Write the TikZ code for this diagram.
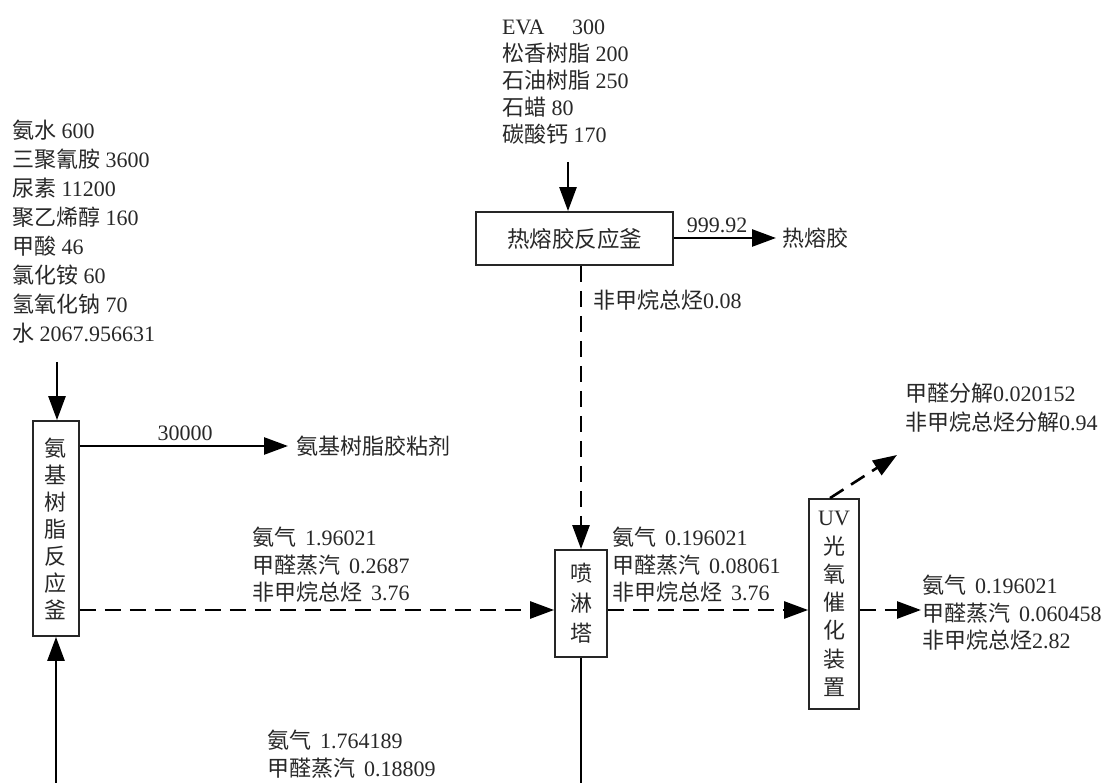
\documentclass[tikz,border=0pt]{standalone}
\usepackage{fontspec}
\setmainfont{Liberation Serif}
\newfontfamily\cjk{Noto Sans CJK SC}
\usetikzlibrary{arrows.meta}
\newcommand\zh[1]{{\cjk #1}}
\newcommand\gp{\hspace{9pt}}
\definecolor{ink}{RGB}{40,40,40}
\begin{document}
\begin{tikzpicture}[x=1pt,y=-1pt,
  every node/.style={inner sep=0pt, text=ink, font=\fontsize{22}{28}\selectfont},
  flow/.style={line width=2.6pt, -{Triangle[length=24pt,width=17pt]}},
  dflow/.style={flow, dash pattern=on 16pt off 9pt},
  unit/.style={draw=black!85, line width=1.8pt, fill=white, align=center},
  lbl/.style={align=left, anchor=north west},
]
\path[use as bounding box, fill=white] (0,0) rectangle (1120,783);
\clip (0,0) rectangle (1120,783);

% units
\node[unit, minimum width=46pt, minimum height=215pt, font=\fontsize{22}{27}\selectfont\cjk] (lb) at (56,528.5) {氨\\基\\树\\脂\\反\\应\\釜};
\node[unit, minimum width=52pt, minimum height=107pt, font=\fontsize{22}{30}\selectfont\cjk] (pl) at (581,603.5) {喷\\淋\\塔};
\node[unit, minimum width=50pt, minimum height=210pt, font=\fontsize{22}{28.3}\selectfont\cjk] (uv) at (834,604) {{\rmfamily UV}\\光\\氧\\催\\化\\装\\置};
\node[unit, minimum width=197pt, minimum height=53pt, font=\fontsize{22.5}{26}\selectfont\cjk] (hr) at (574.5,238.5) {热熔胶反应釜};

% input lists
\node[lbl, font=\fontsize{22}{29}\selectfont] (lin) at (12,120)
 {\zh{氨水} 600\\\zh{三聚氰胺} 3600\\\zh{尿素} 11200\\\zh{聚乙烯醇} 160\\\zh{甲酸} 46\\\zh{氯化铵} 60\\\zh{氢氧化钠} 70\\\zh{水} 2067.956631};
\node[lbl, font=\fontsize{22}{26.8}\selectfont] (eva) at (502,20)
 {EVA\quad\ 300\\\zh{松香树脂} 200\\\zh{石油树脂} 250\\\zh{石蜡} 80\\\zh{碳酸钙} 170};

\coordinate (linend) at (57,362);
\draw[flow] (linend) -- (linend |- lb.north);
\coordinate (evaend) at (568,162);
\draw[flow] (evaend) -- (evaend |- hr.north);

% products
\node[anchor=west] (p1) at (296,446) {\zh{氨基树脂胶粘剂}};
\draw[flow] (lb.east |- p1) -- ([xshift=-8pt]p1.west);
\node (q1) at (185,433) {30000};

\node[anchor=west] (p2) at (782,238) {\zh{热熔胶}};
\draw[flow] (hr.east |- p2) -- ([xshift=-6pt]p2.west);
\node (q2) at (717,225) {999.92};

% gas streams
\draw[dflow] (pl.north |- hr.south) -- (pl.north);
\node[anchor=west] (g0) at (593,300) {\zh{非甲烷总烃}0.08};

\coordinate (y610) at (0,610);
\draw[dflow] (lb.east |- y610) -- (pl.west |- y610);
\node[lbl, font=\fontsize{22}{27.5}\selectfont] (g1) at (252,527)
 {\zh{氨气}\gp 1.96021\\\zh{甲醛蒸汽}\gp 0.2687\\\zh{非甲烷总烃}\gp 3.76};

\draw[dflow] (pl.east |- y610) -- (uv.west |- y610);
\node[lbl, font=\fontsize{22}{27.5}\selectfont] (g2) at (612,527)
 {\zh{氨气}\gp 0.196021\\\zh{甲醛蒸汽}\gp 0.08061\\\zh{非甲烷总烃}\gp 3.76};

\coordinate (outtip) at (921,610);
\draw[dflow] (uv.east |- y610) -- (outtip);
\node[lbl, font=\fontsize{22}{27.5}\selectfont] (g3) at (922,575)
 {\zh{氨气}\gp 0.196021\\\zh{甲醛蒸汽}\gp 0.060458\\\zh{非甲烷总烃}2.82};

\coordinate (dtip) at (897,455);
\draw[dflow] ([xshift=-4pt]uv.north) -- (dtip);
\node[lbl, font=\fontsize{22}{29}\selectfont] (g4) at (905,383)
 {\zh{甲醛分解}0.020152\\\zh{非甲烷总烃分解}0.94};

% recycle
\draw[flow] (pl.south) -- ++(0,200) -| (lb.south);
\node[lbl, font=\fontsize{22}{28}\selectfont] (g5) at (267,730)
 {\zh{氨气}\gp 1.764189\\\zh{甲醛蒸汽}\gp 0.18809};
\end{tikzpicture}
\end{document}
